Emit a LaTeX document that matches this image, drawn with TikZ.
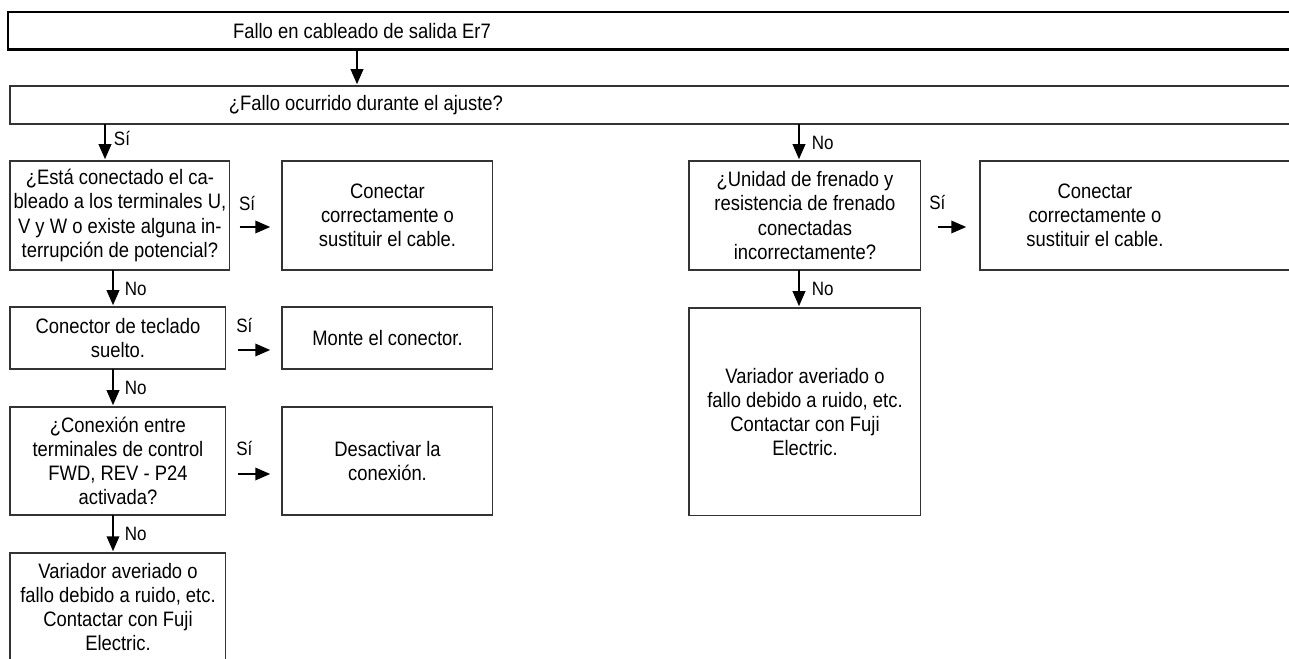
\documentclass[tikz,border=0pt]{standalone}
\usepackage{fontspec}
\setmainfont{Liberation Sans}[FakeStretch=0.88]
\usetikzlibrary{positioning,arrows.meta,calc}

\begin{document}
\begin{tikzpicture}[x=0.02cm,y=-0.02cm,
  box/.style={draw=black!80,line width=0.6pt,align=center,inner sep=2pt,outer sep=0pt,
    anchor=north west,font=\fontsize{11.9}{13.7}\selectfont},
  frame/.style={draw=black!80,line width=0.6pt},
  arr/.style={line width=1.1pt,-{Triangle[length=0.3cm,width=0.25cm]},shorten >=1pt},
  lbl/.style={font=\fontsize{11}{12}\selectfont,inner sep=0pt}]
  \useasboundingbox (0,0) rectangle (1289,659);
  \clip (0,0) rectangle (1289,659);
  % heading and first question (both run past the right edge)
  \node[box,draw=none,minimum width=14.16cm,minimum height=0.76cm] (fault) at (8,12) {Fallo en cableado de salida Er7};
  \draw[line width=1.7pt] (fault.north west) rectangle ($(fault.south east)+(700,0)$);
  \node[box,draw=none,minimum width=14.24cm,minimum height=0.76cm] (ask) at (10,86) {¿Fallo ocurrido durante el ajuste?};
  \draw[frame] (ask.north west) rectangle ($(ask.south east)+(700,0)$);
  \coordinate (xtop) at (357,0);
  \draw[arr] (fault.south -| xtop) -- (ask.north -| xtop);
  % left branch
  \node[box,minimum width=4.32cm,minimum height=2.18cm] (wiring) at (10,161) {¿Está conectado el ca-\\bleado a los terminales U,\\V y W o existe alguna in-\\terrupción de potencial?};
  \node[box,minimum width=4.22cm,minimum height=2.18cm] (fixA) at (282,161) {Conectar\\correctamente o\\sustituir el cable.};
  \node[box,minimum width=4.32cm,minimum height=1.24cm] (keypad) at (10,307) {Conector de teclado\\suelto.};
  \node[box,minimum width=4.22cm,minimum height=1.24cm] (mount) at (282,307) {Monte el conector.};
  \node[box,minimum width=4.32cm,minimum height=2.16cm] (ctrl) at (10,407) {¿Conexión entre\\terminales de control\\FWD, REV - P24\\activada?};
  \node[box,minimum width=4.22cm,minimum height=2.16cm] (off) at (282,407) {Desactivar la\\conexión.};
  \node[box,draw=none,anchor=north,inner ysep=0.2cm] (fujiA) at (118,553) {Variador averiado o\\fallo debido a ruido, etc.\\Contactar con Fuji\\Electric.};
  \draw[frame] (fujiA.north -| ctrl.west) rectangle ($(fujiA.north -| ctrl.east)+(0,150)$);
  \coordinate (xsi) at (105,0);
  \coordinate (xno) at (113,0);
  \draw[arr] (ask.south -| xsi) -- node[lbl,pos=0.4,right=0.16cm] (siA) {Sí} (wiring.north -| xsi);
  \draw[arr] (wiring.south -| xno) -- node[lbl,right=0.22cm] (noA) {No} (keypad.north -| xno);
  \draw[arr] (keypad.south -| xno) -- node[lbl,right=0.22cm] (noB) {No} (ctrl.north -| xno);
  \draw[arr] (ctrl.south -| xno) -- node[lbl,right=0.22cm] (noC) {No} (fujiA.north -| xno);
  \draw[arr] ([xshift=0.2cm,yshift=-0.23cm]wiring.east) -- ([xshift=-0.2cm,yshift=-0.23cm]fixA.west);
  \node[lbl,anchor=west] (siB) at ([xshift=0.18cm,yshift=0.25cm]wiring.east) {Sí};
  \draw[arr] ([xshift=0.24cm,yshift=-0.24cm]keypad.east) -- ([xshift=-0.2cm,yshift=-0.24cm]mount.west);
  \node[lbl,anchor=west] (siC) at ([xshift=0.2cm,yshift=0.26cm]keypad.east) {Sí};
  \draw[arr] ([xshift=0.24cm,yshift=-0.26cm]ctrl.east) -- ([xshift=-0.2cm,yshift=-0.26cm]off.west);
  \node[lbl,anchor=west] (siD) at ([xshift=0.2cm,yshift=0.26cm]ctrl.east) {Sí};
  % right branch
  \node[box,minimum width=4.64cm,minimum height=2.18cm] (brake) at (689,161) {¿Unidad de frenado y\\resistencia de frenado\\conectadas\\incorrectamente?};
  \node[box,draw=none,minimum width=4.6cm,minimum height=2.18cm] (fixB) at (980,161) {Conectar\\correctamente o\\sustituir el cable.};
  \draw[frame] (fixB.north west) rectangle ($(fixB.south east)+(200,0)$);
  \node[box,minimum width=4.64cm,minimum height=4.16cm] (fujiB) at (689,308) {Variador averiado o\\fallo debido a ruido, etc.\\Contactar con Fuji\\Electric.};
  \coordinate (xnoR) at (799,0);
  \draw[arr] (ask.south -| xnoR) -- node[lbl,right=0.24cm] (noD) {No} (brake.north -| xnoR);
  \draw[arr] (brake.south -| xnoR) -- node[lbl,right=0.24cm] (noE) {No} (fujiB.north -| xnoR);
  \draw[arr] ([xshift=0.34cm,yshift=-0.23cm]brake.east) -- ([xshift=-0.24cm,yshift=-0.23cm]fixB.west);
  \node[lbl,anchor=west] (siE) at ([xshift=0.16cm,yshift=0.27cm]brake.east) {Sí};
\end{tikzpicture}
\end{document}
